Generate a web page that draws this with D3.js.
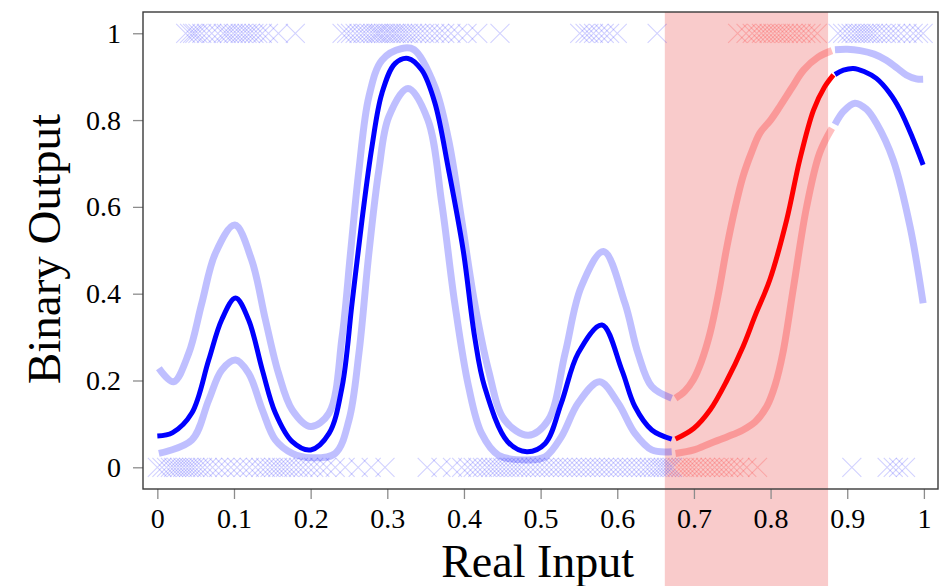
<!DOCTYPE html>
<html>
<head>
<meta charset="utf-8">
<script src="https://cdn.jsdelivr.net/npm/d3@7/dist/d3.min.js"></script>
<style>
  html, body { margin: 0; padding: 0; background: #fff; }
  #chart { width: 944px; height: 586px; }
  text { font-family: 'Liberation Serif', 'DejaVu Serif', serif; fill: #000; }
</style>
</head>
<body>
<div id="chart"></div>
<script>

// tick labels
const xTicks = [0, 0.1, 0.2, 0.3, 0.4, 0.5, 0.6, 0.7, 0.8, 0.9, 1];
const yTicks = [0, 0.2, 0.4, 0.6, 0.8, 1];

// highlighted input window and the points that fall in it
const shadeRange = [0.662, 0.875];
const redRange = [0.675, 0.883];

// observed inputs with output 1
const onesX = [
  0.037, 0.042, 0.046, 0.049, 0.053, 0.058, 0.064, 0.071, 0.079, 0.086, 0.09, 0.094,
  0.099, 0.103, 0.108, 0.112, 0.117, 0.121, 0.126, 0.131, 0.137, 0.145, 0.158, 0.18,
  0.241, 0.247, 0.252, 0.258, 0.263, 0.268, 0.272, 0.277, 0.281, 0.285, 0.288, 0.291,
  0.295, 0.298, 0.302, 0.305, 0.309, 0.312, 0.316, 0.32, 0.324, 0.328, 0.333, 0.338,
  0.343, 0.349, 0.355, 0.362, 0.368, 0.375, 0.383, 0.392, 0.404, 0.418, 0.447,
  0.551, 0.558, 0.563, 0.569, 0.576, 0.583, 0.59, 0.6, 0.652,
  0.757, 0.768, 0.776, 0.782, 0.788, 0.793, 0.798, 0.803, 0.808, 0.813, 0.818, 0.823,
  0.829, 0.834, 0.84, 0.846, 0.853, 0.861,
  0.888, 0.894, 0.9, 0.905, 0.91, 0.914, 0.918, 0.922, 0.926, 0.93, 0.934, 0.939,
  0.945, 0.951, 0.957, 0.963, 0.97, 0.978, 0.986, 0.993, 0.999
];

// observed inputs with output 0
const zerosX = [
  0.0, 0.006, 0.012, 0.017, 0.021, 0.025, 0.029, 0.033, 0.037, 0.041, 0.045, 0.049,
  0.054, 0.059, 0.065, 0.072, 0.08, 0.088, 0.096, 0.104, 0.112, 0.12, 0.128, 0.135,
  0.141, 0.147, 0.152, 0.157, 0.162, 0.167, 0.172, 0.178, 0.184, 0.19, 0.197, 0.204,
  0.212, 0.221, 0.232, 0.245, 0.262, 0.279, 0.297,
  0.352, 0.37, 0.385, 0.397, 0.405, 0.412, 0.418, 0.424, 0.43, 0.435, 0.44, 0.445,
  0.45, 0.455, 0.46, 0.465, 0.47, 0.475, 0.481, 0.487, 0.493, 0.499, 0.505, 0.511,
  0.517, 0.523, 0.529, 0.535, 0.541, 0.547, 0.553, 0.559, 0.565, 0.571, 0.577, 0.583,
  0.589, 0.595, 0.601, 0.607, 0.613, 0.619, 0.625, 0.631, 0.637, 0.642, 0.647, 0.652,
  0.656, 0.66, 0.664, 0.668, 0.672,
  0.678, 0.683, 0.688, 0.693, 0.698, 0.703, 0.709, 0.715, 0.721, 0.727, 0.733, 0.739,
  0.745, 0.752, 0.76, 0.769, 0.783,
  0.906, 0.952, 0.96, 0.967, 0.976
];

// predictive mean and bounds, left blue part
const meanLeft = [
  [0.0, 0.072], [0.02, 0.08], [0.045, 0.125], [0.067, 0.247], [0.084, 0.34], [0.102, 0.39],
  [0.119, 0.34], [0.137, 0.224], [0.154, 0.125], [0.176, 0.059], [0.2, 0.04], [0.224, 0.078],
  [0.241, 0.185], [0.254, 0.378], [0.267, 0.57], [0.28, 0.739], [0.293, 0.862], [0.31, 0.93],
  [0.327, 0.942], [0.345, 0.915], [0.362, 0.84], [0.38, 0.685], [0.399, 0.5], [0.414, 0.3],
  [0.427, 0.185], [0.457, 0.059], [0.482, 0.036], [0.506, 0.055], [0.527, 0.148], [0.549, 0.263],
  [0.58, 0.328], [0.606, 0.224], [0.623, 0.14], [0.645, 0.086], [0.671, 0.065]
];
const upperLeft = [
  [0.002, 0.228], [0.021, 0.197], [0.041, 0.263], [0.058, 0.378], [0.076, 0.494], [0.101, 0.558],
  [0.123, 0.478], [0.141, 0.34], [0.158, 0.217], [0.176, 0.132], [0.2, 0.094], [0.224, 0.125],
  [0.241, 0.3], [0.252, 0.494], [0.263, 0.685], [0.276, 0.854], [0.293, 0.938], [0.319, 0.965],
  [0.335, 0.962], [0.362, 0.877], [0.38, 0.754], [0.397, 0.57], [0.414, 0.378], [0.432, 0.224],
  [0.453, 0.109], [0.484, 0.074], [0.51, 0.109], [0.532, 0.263], [0.553, 0.416], [0.582, 0.497],
  [0.61, 0.378], [0.627, 0.263], [0.645, 0.186], [0.671, 0.159]
];
const lowerLeft = [
  [0.002, 0.032], [0.045, 0.063], [0.067, 0.155], [0.084, 0.224], [0.102, 0.247], [0.119, 0.217],
  [0.137, 0.132], [0.154, 0.063], [0.176, 0.032], [0.2, 0.022], [0.232, 0.032], [0.25, 0.109],
  [0.263, 0.263], [0.276, 0.494], [0.289, 0.685], [0.302, 0.808], [0.327, 0.873], [0.353, 0.8],
  [0.371, 0.609], [0.388, 0.378], [0.406, 0.186], [0.423, 0.078], [0.445, 0.028], [0.482, 0.017],
  [0.506, 0.024], [0.527, 0.07], [0.549, 0.148], [0.577, 0.197], [0.601, 0.148], [0.623, 0.078],
  [0.645, 0.04], [0.671, 0.036]
];

// highlighted (red) part
const meanMid = [
  [0.676, 0.065], [0.7, 0.09], [0.721, 0.132], [0.743, 0.2], [0.764, 0.278], [0.78, 0.35],
  [0.799, 0.432], [0.821, 0.57], [0.838, 0.708], [0.856, 0.823], [0.87, 0.875], [0.882, 0.904]
];
const upperMid = [
  [0.676, 0.159], [0.688, 0.175], [0.699, 0.201], [0.71, 0.245], [0.721, 0.309], [0.732, 0.4],
  [0.743, 0.508], [0.754, 0.6], [0.764, 0.67], [0.775, 0.725], [0.786, 0.77], [0.8, 0.8],
  [0.812, 0.831], [0.828, 0.875], [0.843, 0.915], [0.862, 0.945], [0.88, 0.96]
];
const lowerMid = [
  [0.676, 0.032], [0.7, 0.04], [0.721, 0.055], [0.743, 0.07], [0.764, 0.086], [0.78, 0.105],
  [0.795, 0.14], [0.806, 0.19], [0.816, 0.263], [0.83, 0.416], [0.847, 0.6], [0.864, 0.724],
  [0.88, 0.781]
];

// right blue part
const meanRight = [
  [0.884, 0.905], [0.895, 0.915], [0.908, 0.919], [0.922, 0.912], [0.938, 0.896],
  [0.955, 0.863], [0.969, 0.823], [0.985, 0.76], [0.999, 0.697]
];
const upperRight = [
  [0.884, 0.962], [0.9, 0.963], [0.917, 0.96], [0.935, 0.952], [0.951, 0.938],
  [0.965, 0.92], [0.977, 0.904], [0.99, 0.895], [0.999, 0.894]
];
const lowerRight = [
  [0.884, 0.79], [0.895, 0.82], [0.91, 0.839], [0.925, 0.825], [0.938, 0.793],
  [0.96, 0.708], [0.982, 0.554], [0.999, 0.378]
];


/**
 * Mean / bounds chart with binary observations.
 * @public
 * @class
 */
class BandChart {


  constructor() {

    this._width = 944;
    this._height = 586;

    this._margin = {
      left: 143,
      top: 12,
      right: 6,
      bottom: 97
    };

    this._xDomain = [-0.0187, 1.0184];
    this._yDomain = [-0.05, 1.049];

    this._crossSize = 9.5;
    this._blue = '#0000ff';
    this._red = '#ff0000';

    this._segments = [
      { mean: meanLeft, upper: upperLeft, lower: lowerLeft, color: this._blue },
      { mean: meanMid, upper: upperMid, lower: lowerMid, color: this._red },
      { mean: meanRight, upper: upperRight, lower: lowerRight, color: this._blue }
    ];

    this._points = onesX.map(x => ({ x: x, y: 1 }))
      .concat(zerosX.map(x => ({ x: x, y: 0 })));
  }


  _isRed(x) {

    return x >= redRange[0] && x <= redRange[1];
  }


  /**
   * Render chart.
   * @param {String} selector
   * @returns {BandChart}
   */
  renderTo(selector) {

    const margin = this._margin;
    const innerWidth = this._width - margin.left - margin.right;
    const innerHeight = this._height - margin.top - margin.bottom;

    const x = d3.scaleLinear().domain(this._xDomain).range([0, innerWidth]);
    const y = d3.scaleLinear().domain(this._yDomain).range([innerHeight, 0]);

    this._svg = d3.select(selector)
      .append('svg')
      .attr('width', this._width)
      .attr('height', this._height);

    this._canvas = this._svg
      .append('g')
      .attr('transform', 'translate(' + [margin.left, margin.top] + ')');

    // shaded window, runs past the axis to the bottom edge
    this._canvas
      .append('rect')
      .attr('x', x(shadeRange[0]))
      .attr('width', x(shadeRange[1]) - x(shadeRange[0]))
      .attr('y', 0)
      .attr('height', this._height - margin.top)
      .style('fill', '#f9cbcb');

    // axes
    const xAxis = this._canvas
      .append('g')
      .attr('transform', 'translate(0,' + innerHeight + ')')
      .call(d3.axisBottom(x)
        .tickValues(xTicks)
        .tickFormat(d3.format('~g'))
        .tickSize(10)
        .tickPadding(9));

    const yAxis = this._canvas
      .append('g')
      .call(d3.axisLeft(y)
        .tickValues(yTicks)
        .tickFormat(d3.format('~g'))
        .tickSize(10)
        .tickPadding(12));

    [xAxis, yAxis].forEach(function(axis) {
      axis.select('.domain').remove();
      axis.selectAll('.tick line')
        .style('stroke', '#8c8c8c')
        .style('stroke-width', 1.3);
      axis.selectAll('.tick text')
        .style('font-family', "'Liberation Serif', serif")
        .style('font-size', '28px')
        .style('fill', '#000');
    });

    // observations
    const s = this._crossSize;
    this._canvas
      .append('g')
      .selectAll('path.cross')
      .data(this._points)
      .enter()
      .append('path')
      .attr('class', 'cross')
      .attr('transform', d => 'translate(' + [x(d.x), y(d.y)] + ')')
      .attr('d', 'M' + -s + ',' + -s + 'L' + s + ',' + s + 'M' + -s + ',' + s + 'L' + s + ',' + -s)
      .style('fill', 'none')
      .style('stroke', d => this._isRed(d.x) ? this._red : this._blue)
      .style('stroke-opacity', 0.18)
      .style('stroke-width', 1.1);

    // curves
    const line = d3.line()
      .x(d => x(d[0]))
      .y(d => y(d[1]))
      .curve(d3.curveCatmullRom.alpha(0.5));

    const curves = this._canvas.append('g');

    this._segments.forEach(function(seg) {
      [seg.upper, seg.lower].forEach(function(band) {
        curves.append('path')
          .attr('d', line(band))
          .style('fill', 'none')
          .style('stroke', seg.color)
          .style('stroke-opacity', 0.25)
          .style('stroke-width', 7);
      });
      curves.append('path')
        .attr('d', line(seg.mean))
        .style('fill', 'none')
        .style('stroke', seg.color)
        .style('stroke-width', 5);
    });

    // frame
    this._canvas
      .append('rect')
      .attr('width', innerWidth)
      .attr('height', innerHeight)
      .style('fill', 'none')
      .style('stroke', '#3a3a3a')
      .style('stroke-width', 1.4);

    // labels
    this._canvas
      .append('text')
      .attr('x', x(0.5) - 3)
      .attr('y', innerHeight + 88)
      .attr('text-anchor', 'middle')
      .style('font-size', '46px')
      .text('Real Input');

    this._canvas
      .append('text')
      .attr('transform', 'translate(' + [60 - margin.left, 249 - margin.top] + ') rotate(-90)')
      .attr('text-anchor', 'middle')
      .style('font-size', '47px')
      .text('Binary Output');

    return this;
  }
}


new BandChart().renderTo('#chart');

</script>
</body>
</html>
